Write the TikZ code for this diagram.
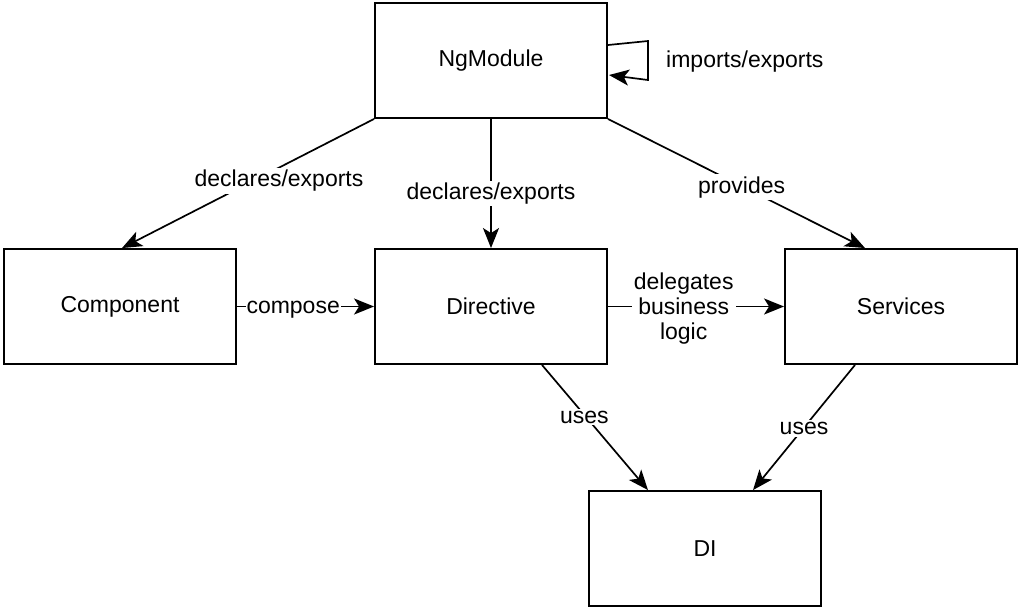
\documentclass[tikz,border=0pt]{standalone}
\usepackage{fontspec}
\setmainfont{Liberation Sans}
\usetikzlibrary{arrows.meta}
\begin{document}
\begin{tikzpicture}[x=1pt,y=-1pt,
  box/.style={draw,line width=1.9pt,minimum width=232pt,minimum height=115pt,inner sep=0pt,font=\fontsize{23}{27}\selectfont},
  conn/.style={line width=1.7pt,-{Stealth[length=20pt,width=16pt,inset=5pt]}},
  lab/.style={fill=white,inner sep=2pt,font=\fontsize{23}{26}\selectfont,align=center}]
\useasboundingbox (0,0) rectangle (1024,614);
\node[box] (ng) at (491,60.5) {NgModule};
\node[box] (comp) at (120,306.5) {Component};
\node[box] (dir) at (491,306.5) {Directive};
\node[box] (serv) at (901,306.5) {Services};
\node[box] (di) at (705,548.5) {DI};
\coordinate (l0) at (608,45);
\coordinate (l1) at (648,41);
\coordinate (l2) at (648,80);
\coordinate (l3) at (609,75);
\draw[conn] (l0) -- (l1) -- (l2) -- (l3);
\node[lab,anchor=west] (limp) at (664,62) {imports/exports};
\draw[conn] (ng.south west) -- ([xshift=2pt]comp.north);
\node[lab] (la) at (279,181) {declares/exports};
\draw[conn] (ng.south) -- node[lab,pos=0.56,yshift=-2pt] (lb) {declares/exports} (dir.north);
\draw[conn] (ng.south east) -- node[lab,pos=0.52,yshift=-1pt] (lc) {provides} ([xshift=-36pt]serv.north);
\draw[conn] (comp.east) -- node[lab,pos=0.41,inner sep=1pt,yshift=-3pt] (ld) {compose} (dir.west);
\draw[conn] (dir.east) -- node[lab,pos=0.43,yshift=-2pt] (le) {delegates\\[-1pt]business\\[-1pt]logic} (serv.west);
\draw[conn] ([xshift=51pt]dir.south) -- node[lab,pos=0.4,yshift=-2pt] (lf) {uses} ([xshift=-57pt]di.north);
\draw[conn] ([xshift=-46pt]serv.south) -- node[lab,pos=0.5,yshift=-1pt] (lg) {uses} ([xshift=48pt]di.north);
\end{tikzpicture}
\end{document}
